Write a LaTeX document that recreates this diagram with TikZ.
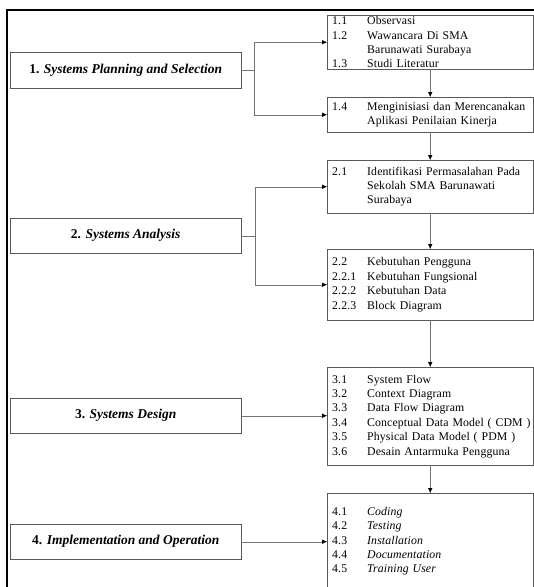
\documentclass[tikz,border=0pt]{standalone}
\usepackage{fontspec}
\setmainfont{Liberation Serif}
\usetikzlibrary{positioning,arrows.meta}
\newcommand{\itm}[2]{\mbox{\makebox[35pt][l]{#1}#2}}

\begin{document}
\begin{tikzpicture}[x=1pt,y=-1pt,
  phase/.style={draw=black!65,minimum width=231pt,minimum height=35pt,anchor=north west,
    inner sep=0pt,font=\fontsize{13.5}{16}\selectfont\bfseries},
  item/.style={draw=black!65,minimum width=206pt,anchor=north west,inner xsep=5pt,
    inner ysep=0pt,text width=196pt,align=left,
    font=\fontsize{11.8}{14.4}\selectfont\addfontfeature{LetterSpace=1}},
  flow/.style={draw=black!55,-{Latex[black,length=5pt,width=4.5pt]}}]
  \useasboundingbox (0,0) rectangle (534,587);
  \clip (0,0) rectangle (534,587);
  % outer frame
  \draw[line width=2pt] (6.5,620) -- (6.5,9.5) -- (560,9.5);
  % phases
  \node[phase,minimum height=36pt] (1) at (10,52) {1. \textit{Systems Planning and Selection}};
  \node[phase] (2) at (10,218) {2. \textit{Systems Analysis}};
  \node[phase] (3) at (10,398) {3. \textit{Systems Design}};
  \node[phase] (4) at (10,524) {4. \textit{Implementation and Operation}};
  % activities
  \node[item,minimum height=54pt] (1a) at (327,15) {\itm{1.1}{Observasi}\\
    \itm{1.2}{Wawancara Di SMA}\\ \itm{}{Barunawati Surabaya}\\ \itm{1.3}{Studi Literatur}};
  \node[item,minimum height=35pt] (1b) at (327,97) {\itm{1.4}{Menginisiasi dan Merencanakan}\\
    \itm{}{Aplikasi Penilaian Kinerja}};
  \node[item,minimum height=53pt] (2a) at (327,160) {\itm{2.1}{Identifikasi Permasalahan Pada}\\
    \itm{}{Sekolah SMA Barunawati}\\ \itm{}{Surabaya}};
  \node[item,minimum height=71pt] (2b) at (327,249) {\itm{2.2}{Kebutuhan Pengguna}\\
    \itm{2.2.1}{Kebutuhan Fungsional}\\ \itm{2.2.2}{Kebutuhan Data}\\ \itm{2.2.3}{Block Diagram}};
  \node[item,minimum height=98pt] (3a) at (327,367) {\itm{3.1}{System Flow}\\
    \itm{3.2}{Context Diagram}\\ \itm{3.3}{Data Flow Diagram}\\
    \itm{3.4}{Conceptual Data Model ( CDM )}\\ \itm{3.5}{Physical Data Model ( PDM )}\\
    \itm{3.6}{Desain Antarmuka Pengguna}};
  \node[item,minimum height=96pt] (4a) at (327,493) {\itm{4.1}{\textit{Coding}}\\
    \itm{4.2}{\textit{Testing}}\\ \itm{4.3}{\textit{Installation}}\\
    \itm{4.4}{\textit{Documentation}}\\ \itm{4.5}{\textit{Training User}}};
  % connectors
  \draw[flow] (1.east) -- ++(13,0) |- (1a.west);
  \draw[flow] (1.east) -- ++(13,0) |- (1b.west);
  \draw[flow] (2.east) -- ++(14,0) |- (2a.west);
  \draw[flow] (2.east) -- ++(14,0) |- (2b.west);
  \draw[flow] (3.east) -- (3.east -| 3a.west);
  \draw[flow] (4.east) -- (4.east -| 4a.west);
  \draw[flow] (1a) -- (1b);
  \draw[flow] (1b) -- (2a);
  \draw[flow] (2a) -- (2b);
  \draw[flow] (2b) -- (3a);
  \draw[flow] (3a) -- (4a);
\end{tikzpicture}
\end{document}
